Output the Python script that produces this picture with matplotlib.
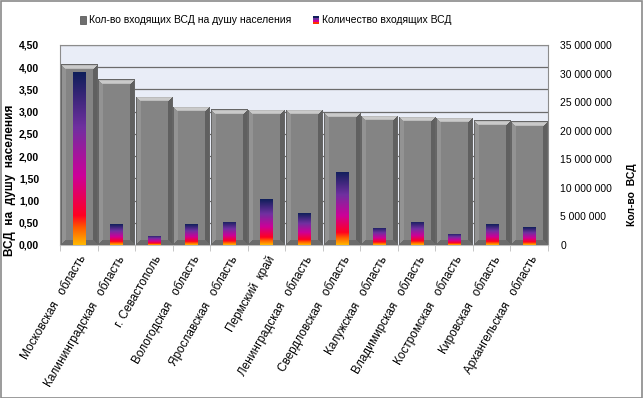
import numpy as np
import matplotlib
matplotlib.use("Agg")
import matplotlib.pyplot as plt
from matplotlib.colors import LinearSegmentedColormap
from matplotlib.patches import Rectangle
from matplotlib.ticker import FuncFormatter, MultipleLocator, FixedLocator

plt.rcParams['font.family'] = ['Liberation Sans', 'DejaVu Sans']

# ---- data ----
regions = ["Московская   область", "Калининградская   область", "г. Севастополь",
           "Вологодская   область", "Ярославская   область", "Пермский  край",
           "Ленинградская   область", "Свердловская   область", "Калужская   область",
           "Владимирская   область", "Костромская   область", "Кировская   область",
           "Архангельская   область"]
per_capita = [4.07, 3.73, 3.34, 3.11, 3.06, 3.04, 3.04, 2.98, 2.91, 2.89, 2.86, 2.81, 2.79]
total_incoming = [30.2e6, 3.67e6, 1.58e6, 3.67e6, 4.03e6, 8.05e6, 5.6e6, 12.8e6,
                  2.98e6, 4.03e6, 1.93e6, 3.67e6, 3.15e6]
series_names = ["Кол-во входящих ВСД на душу населения", "Количество входящих ВСД"]
left_label = "ВСД  на  душу  населения"
right_label = "Кол-во  ВСД"

W, H = 643, 398
fig = plt.figure(figsize=(W / 100, H / 100), dpi=100)
fig.patch.set_facecolor("white")
fig.patches.append(Rectangle((0.5 / W, 0.5 / H), 1 - 1.5 / W, 1 - 1.5 / H, transform=fig.transFigure,
                             fill=False, edgecolor="#8a8a8a", linewidth=1.2))

L, R, T, B = 60, 548, 45, 245
ax = fig.add_axes([L / W, 1 - B / H, (R - L) / W, (B - T) / H])
ax.set_facecolor("#E9EDF7")
ax2 = ax.twinx()

n = len(regions)
x = np.arange(n)
ax.set_xlim(-0.5, n - 0.5)
ax.set_ylim(0, 4.5)
ax2.set_ylim(0, 35e6)

# gridlines
ax.yaxis.set_major_locator(MultipleLocator(0.5))
ax.grid(axis="y", color="#6b6b6b", linewidth=0.9)
ax.set_axisbelow(True)


def bevel_img(nx, ny, b=5):
    ii, jj = np.mgrid[0:ny, 0:nx]
    dt, db, dl, dr = ii, ny - 1 - ii, jj, nx - 1 - jj
    d = np.stack([dt, db, dl, dr])
    m = d.min(axis=0)
    which = d.argmin(axis=0)
    band = m < b
    frac = m / b
    img = np.full((ny, nx), 0.52)
    top = 0.62 + 0.18 * np.sin(np.pi * (frac * 0.9 + 0.05))
    img = np.where(band & (which == 0), top, img)
    img = np.where(band & (which == 1), 0.42, img)
    img = np.where(band & (which == 2), 0.58, img)
    img = np.where(band & (which == 3), 0.38, img)
    img = np.where(m == 0, 0.40, img)
    return np.dstack([img, img, img])


px_per_unit = (B - T) / 4.5
gray_bars = ax.bar(x, per_capita, width=0.96, color="none", edgecolor="none", zorder=2)
for rect, v in zip(gray_bars, per_capita):
    ny = max(int(round(v * px_per_unit)), 10)
    im = ax.imshow(bevel_img(36, ny), extent=[rect.get_x(), rect.get_x() + rect.get_width(), 0, v],
                   aspect="auto", zorder=2, interpolation="nearest")
    im.set_clip_path(rect)

grad_cmap = LinearSegmentedColormap.from_list("g", [
    (0.0, "#FFB800"), (0.10, "#FF5A00"), (0.17, "#FF0022"), (0.40, "#CC0099"),
    (0.68, "#7030A0"), (1.0, "#0F1F5A")])
inner = ax2.bar(x, total_incoming, width=0.32, color="none", edgecolor="none", zorder=3)
grad = np.linspace(1, 0, 256).reshape(-1, 1)
for rect, v in zip(inner, total_incoming):
    im = ax2.imshow(grad, cmap=grad_cmap, extent=[rect.get_x(), rect.get_x() + rect.get_width(), 0, v],
                    aspect="auto", zorder=3, vmin=0, vmax=1)
    im.set_clip_path(rect)
ax2.set_xlim(-0.5, n - 0.5)
ax2.set_ylim(0, 35e6)

# spines
for s in ["top", "right", "left"]:
    ax.spines[s].set_color("#8c8c8c")
    ax2.spines[s].set_visible(False)
ax.spines["bottom"].set_color("#bdbdbd")
ax2.spines["bottom"].set_visible(False)

# left ticks
ax.yaxis.set_major_formatter(FuncFormatter(lambda v, p: f"{v:.2f}".replace(".", ",")))
ax.tick_params(axis="y", length=0, pad=15, labelsize=7.5, labelcolor="black")
for lab in ax.get_yticklabels():
    lab.set_fontweight("bold")

# right ticks
ax2.yaxis.set_major_locator(MultipleLocator(5e6))
ax2.yaxis.set_major_formatter(FuncFormatter(lambda v, p: f"{int(v):,}".replace(",", " ")))
ax2.tick_params(axis="y", length=0, pad=9, labelsize=7.5)

# x ticks
ax.set_xticks(x)
ax.set_xticklabels(regions, rotation=60, ha="right", rotation_mode="anchor", fontsize=8.5)
ax.tick_params(axis="x", length=0, pad=6)
ax.xaxis.set_minor_locator(FixedLocator(np.arange(n + 1) - 0.5))
ax.tick_params(axis="x", which="minor", length=4, color="#bdbdbd")

# axis labels
ax.set_ylabel(left_label, fontsize=8.5, fontweight="bold")
ax.yaxis.set_label_coords(-(L - 16) / (R - L), (B - 180) / (B - T))
ax2.set_ylabel(right_label, fontsize=7.5, fontweight="bold")
ax2.yaxis.set_label_coords(1 + (627 - R) / (R - L), (B - 195) / (B - T))

# legend (manual)
ly = 20
fig.patches.append(Rectangle((80 / W, 1 - (ly + 3.5) / H), 6 / W, 7 / H, transform=fig.transFigure,
                             facecolor="#6e6e6e", edgecolor="#4a4a4a", linewidth=0.5))
fig.text(89 / W, 1 - ly / H, series_names[0], fontsize=7.5, va="center", ha="left")
cols = ["#FF3300", "#CC0099", "#7030A0", "#0F1F5A"]
for k, c in enumerate(cols):
    fig.patches.append(Rectangle((313 / W, 1 - (ly + 3.5 - k * 1.75) / H), 6 / W, 1.75 / H,
                                 transform=fig.transFigure, facecolor=c, edgecolor="none"))
fig.text(322 / W, 1 - ly / H, series_names[1], fontsize=7.5, va="center", ha="left")

fig.savefig("out.png", dpi=100)
